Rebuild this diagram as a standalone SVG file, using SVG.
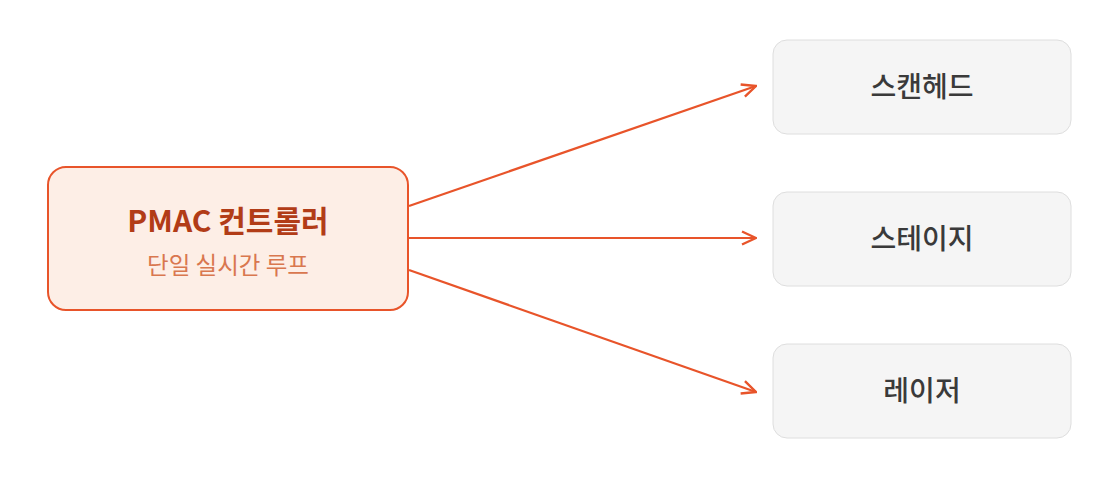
<svg xmlns="http://www.w3.org/2000/svg" width="1119" height="480" viewBox="0 0 1119 480">
<style>
.main rect{fill:#fdeee6;stroke:#e8542a;stroke-width:2}
.leaf rect{fill:#f5f5f5;stroke:#dedede;stroke-width:1}
text{font-family:"Noto Sans CJK KR","Noto Sans",sans-serif;text-anchor:middle}
.t1{font-size:30px;font-weight:700;fill:#b23c17}
.t2{font-size:23.5px;fill:#d9774f}
.lt{font-size:28px;font-weight:500;fill:#3a3a3a}
.edge{stroke:#e8542a;stroke-width:2.2;fill:none;marker-end:url(#ah)}
</style>
<defs>
<marker id="ah" viewBox="0 0 16 16" refX="15" refY="8" markerWidth="16" markerHeight="16" markerUnits="userSpaceOnUse" orient="auto">
<path d="M1,1.5 L15,8 L1,14.5" fill="none" stroke="#e8542a" stroke-width="2.4"/>
</marker>
</defs>
<g id="connectors">
<line class="edge" x1="409" y1="206" x2="756" y2="86"/>
<line class="edge" x1="409" y1="238" x2="756" y2="238"/>
<line class="edge" x1="409" y1="270" x2="756" y2="392"/>
</g>
<g id="pmac" class="main">
<rect x="48" y="167" width="360" height="143" rx="18"/>
<text class="t1" x="228" y="232">PMAC 컨트롤러</text>
<text class="t2" x="228" y="274">단일 실시간 루프</text>
</g>
<g id="scanhead" class="leaf">
<rect x="773" y="40" width="298" height="94" rx="14"/>
<text class="lt" x="922" y="97">스캔헤드</text>
</g>
<g id="stage" class="leaf">
<rect x="773" y="192" width="298" height="94" rx="14"/>
<text class="lt" x="922" y="249">스테이지</text>
</g>
<g id="laser" class="leaf">
<rect x="773" y="344" width="298" height="94" rx="14"/>
<text class="lt" x="922" y="401">레이저</text>
</g>
</svg>
